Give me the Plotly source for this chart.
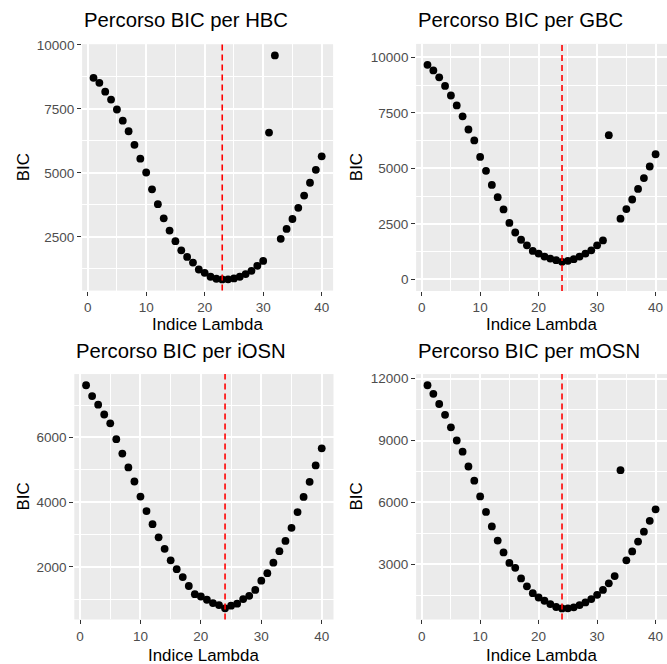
import plotly.graph_objects as go

# ---------------- data ----------------
lambda_index = [1, 2, 3, 4, 5, 6, 7, 8, 9, 10, 11, 12, 13, 14, 15, 16, 17, 18, 19, 20,
                21, 22, 23, 24, 25, 26, 27, 28, 29, 30, 31, 32, 33, 34, 35, 36, 37, 38, 39, 40]

bic_hbc = [8711, 8518, 8170, 7861, 7474, 7036, 6624, 6095, 5554, 5013,
           4356, 3776, 3222, 2745, 2332, 1972, 1714, 1495, 1224, 1095,
           941, 863, 835, 840, 876, 941, 1044, 1173, 1366, 1559,
           6572, 9588, 2423, 2809, 3196, 3634, 4111, 4613, 5116, 5644]

bic_gbc = [9658, 9406, 9094, 8708, 8277, 7831, 7341, 6747, 6257, 5514,
           4890, 4251, 3702, 3152, 2543, 2113, 1786, 1533, 1281, 1162,
           1028, 939, 865, 791, 836, 910, 1028, 1162, 1310, 1533,
           1756, 6494, None, 2736, 3167, 3598, 4073, 4563, 5083, 5633]

bic_iosn = [7614, 7279, 7015, 6711, 6437, 5949, 5503, 5076, 4640, 4173,
            3726, 3320, 2914, 2558, 2203, 1929, 1685, 1411, 1157, 1086,
            985, 883, 822, 721, 802, 863, 1005, 1107, 1289, 1574,
            1807, 2132, 2487, 2802, 3208, 3695, 4162, 4629, 5137, 5665]

bic_mosn = [11681, 11266, 10771, 10245, 9638, 9000, 8457, 7739, 7053, 6287,
            5537, 4835, 4149, 3574, 3064, 2824, 2314, 1931, 1596, 1388,
            1229, 1069, 926, 855, 862, 910, 1021, 1149, 1309, 1516,
            1755, 2074, 2426, 7564, 3191, 3622, 4101, 4580, 5106, 5665]

cell_types = ["HBC", "GBC", "iOSN", "mOSN"]
series = [bic_hbc, bic_gbc, bic_iosn, bic_mosn]
best_lambda = [23, 24, 24, 24]
y_dticks = [2500, 2500, 2000, 3000]
y_ranges = [[401, 10025], [-520, 10600], [376, 7959], [321, 12222]]

title_text = "Percorso BIC per {}"
x_title = "Indice Lambda"
y_title = "BIC"

# ---------------- layout geometry (pixels) ----------------
W, H = 667, 664
# panel boxes: (left, right, top, bottom) in px
panels = [
    (82.1, 333.1, 37.6, 286.6),
    (416.1, 667.0, 37.3, 287.0),
    (74.3, 333.5, 371.0, 619.0),
    (416.1, 667.0, 371.0, 619.0),
]
title_base = [24.5, 24.5, 359.5, 359.5]
xtitle_center = [321.0, 321.0, 655.0, 655.5]
ytitle_x = [23.8, 356.7, 23.8, 356.7]

FONT = "Liberation Sans, Arial, Helvetica, sans-serif"
TITLE_SIZE = 20.3
AXIS_TITLE_SIZE = 16.9
TICK_SIZE = 13.5

fig = go.Figure()
layout = dict(
    width=W, height=H,
    margin=dict(l=0, r=0, t=0, b=0),
    paper_bgcolor="white",
    plot_bgcolor="#EBEBEB",
    showlegend=False,
    font=dict(family=FONT, color="black"),
)
annotations = []
shapes = []

for i, (ct, ys) in enumerate(zip(cell_types, series)):
    n = i + 1
    xa = "x" if n == 1 else f"x{n}"
    ya = "y" if n == 1 else f"y{n}"
    xkey = "xaxis" if n == 1 else f"xaxis{n}"
    ykey = "yaxis" if n == 1 else f"yaxis{n}"
    l, r, t, b = panels[i]

    fig.add_trace(go.Scatter(
        x=lambda_index, y=ys, mode="markers", xaxis=xa, yaxis=ya,
        marker=dict(color="black", size=7.8, line=dict(width=0)),
        hoverinfo="x+y",
    ))

    common = dict(
        showline=False, zeroline=False, showgrid=True,
        gridcolor="white", gridwidth=1.8,
        ticks="outside", tickwidth=1.1, tickcolor="#333333", ticklen=4,
        tickfont=dict(family=FONT, size=TICK_SIZE, color="#4D4D4D"),
    )
    layout[xkey] = dict(
        common,
        domain=[l / W, r / W], anchor=ya,
        range=[-0.95, 41.95], tickmode="linear", tick0=0, dtick=10,
        minor=dict(tick0=5, dtick=10, showgrid=True, gridcolor="white",
                   gridwidth=0.9, ticks=""),
    )
    dt = y_dticks[i]
    layout[ykey] = dict(
        common,
        domain=[1 - b / H, 1 - t / H], anchor=xa,
        range=y_ranges[i], tickmode="linear", tick0=0, dtick=dt,
        tickformat="d",
        minor=dict(tick0=dt / 2, dtick=dt, showgrid=True, gridcolor="white",
                   gridwidth=0.9, ticks=""),
    )

    # vertical dashed line at optimal lambda
    shapes.append(dict(
        type="line", xref=xa, yref=f"{ya} domain",
        x0=best_lambda[i], x1=best_lambda[i], y0=0, y1=1,
        line=dict(color="#FF0000", width=1.6, dash="6px,4px"),
        layer="above",
    ))

    # panel title
    annotations.append(dict(
        text=title_text.format(ct), xref="paper", yref="paper",
        x=l / W, y=1 - (title_base[i] - 0.58 * TITLE_SIZE) / H,
        xanchor="left", yanchor="middle", showarrow=False,
        font=dict(family=FONT, size=TITLE_SIZE, color="black"),
    ))
    # x axis title
    annotations.append(dict(
        text=x_title, xref="paper", yref="paper",
        x=(l + r) / 2 / W, y=1 - xtitle_center[i] / H,
        xanchor="center", yanchor="middle", showarrow=False,
        font=dict(family=FONT, size=AXIS_TITLE_SIZE, color="black"),
    ))
    # y axis title
    annotations.append(dict(
        text=y_title, xref="paper", yref="paper", textangle=-90,
        x=ytitle_x[i] / W, y=1 - ((t + b) / 2) / H,
        xanchor="center", yanchor="middle", showarrow=False,
        font=dict(family=FONT, size=AXIS_TITLE_SIZE, color="black"),
    ))

layout["annotations"] = annotations
layout["shapes"] = shapes
fig.update_layout(**layout)

fig.write_html("out.html")
